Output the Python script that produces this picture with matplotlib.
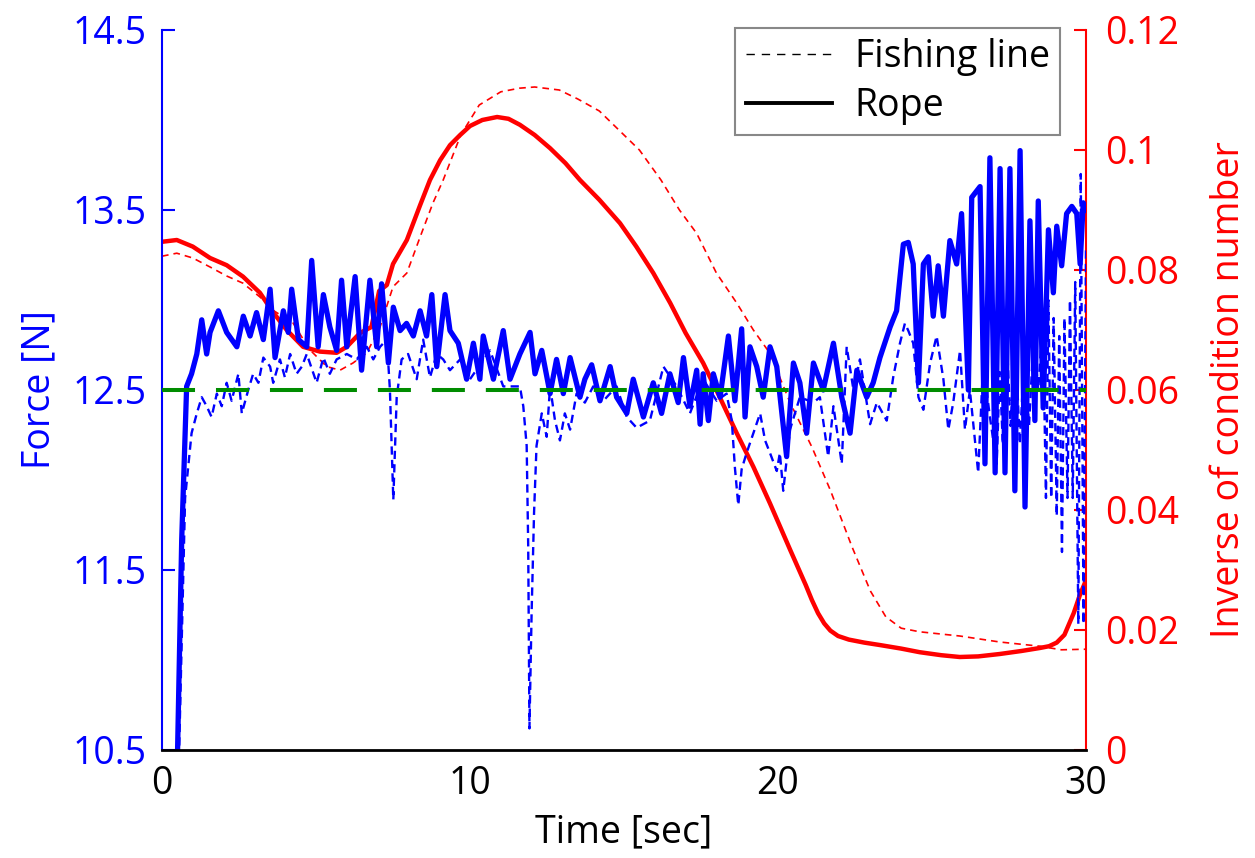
import matplotlib
matplotlib.use("Agg")
import matplotlib.pyplot as plt
from matplotlib.lines import Line2D

plt.rcParams['font.family'] = ['Open Sans', 'DejaVu Sans']

# ---------------- data ----------------
# Rope: force [N] (blue solid, left axis)
rope_force_t = [0.50, 0.64, 0.80, 0.96, 1.13, 1.29, 1.45, 1.56, 1.83, 2.10, 2.43, 2.64, 2.86, 3.07, 3.29,
                3.51, 3.67, 3.94, 4.10, 4.21, 4.43, 4.70, 4.86, 5.07, 5.24, 5.45, 5.67, 5.83, 6.00, 6.27,
                6.48, 6.75, 6.97, 7.13, 7.35, 7.51, 7.73, 7.94, 8.16, 8.38, 8.59, 8.76, 8.92, 9.19, 9.35,
                9.62, 9.89, 10.11, 10.32, 10.43, 10.76, 11.08, 11.30, 11.62, 11.95, 12.11, 12.33, 12.60,
                12.81, 13.03, 13.25, 13.57, 13.73, 13.95, 14.22, 14.55, 14.76, 15.09, 15.30, 15.63, 15.95,
                16.22, 16.49, 16.76, 16.93, 17.14, 17.36, 17.47, 17.57, 17.74, 17.90, 18.12, 18.39, 18.60,
                18.82, 18.93, 19.09, 19.31, 19.52, 19.74, 19.96, 20.28, 20.50, 20.71, 20.93, 21.15, 21.47,
                21.80, 22.07, 22.34, 22.56, 22.88, 23.09, 23.31, 23.64, 23.85, 24.07, 24.23, 24.39, 24.56,
                24.72, 24.88, 25.04, 25.20, 25.37, 25.58, 25.80, 25.96, 26.18, 26.29, 26.56, 26.72, 26.88,
                27.05, 27.21, 27.37, 27.53, 27.69, 27.86, 28.02, 28.18, 28.34, 28.45, 28.61, 28.78, 28.94,
                29.05, 29.21, 29.37, 29.54, 29.70, 29.81, 29.91, 30.00]
rope_force = [10.45, 11.67, 12.52, 12.59, 12.70, 12.89, 12.70, 12.82, 12.94, 12.82, 12.74, 12.91, 12.80, 12.93, 12.78,
              13.06, 12.68, 12.94, 12.82, 13.06, 12.78, 12.74, 13.22, 12.74, 13.03, 12.85, 12.72, 13.11, 12.74, 13.13,
              12.61, 13.11, 12.74, 13.09, 12.65, 12.96, 12.83, 12.87, 12.80, 12.94, 12.80, 13.03, 12.63, 13.03, 12.83,
              12.76, 12.56, 12.76, 12.56, 12.80, 12.56, 12.83, 12.56, 12.70, 12.82, 12.59, 12.72, 12.48,
              12.67, 12.48, 12.68, 12.46, 12.56, 12.64, 12.44, 12.63, 12.46, 12.37, 12.56, 12.35, 12.54,
              12.37, 12.59, 12.43, 12.68, 12.41, 12.61, 12.31, 12.59, 12.33, 12.59, 12.46, 12.80, 12.44,
              12.84, 12.35, 12.74, 12.63, 12.46, 12.74, 12.63, 12.13, 12.65, 12.54, 12.26, 12.65, 12.50,
              12.76, 12.46, 12.26, 12.61, 12.46, 12.54, 12.68, 12.85, 12.94, 13.31, 13.32, 13.20, 12.54,
              13.20, 13.24, 12.91, 13.19, 12.91, 13.33, 13.20, 13.48, 12.50, 13.57, 13.63, 12.09, 13.79,
              12.04, 13.73, 12.04, 13.73, 11.94, 13.83, 11.85, 13.44, 12.33, 13.55, 12.40, 13.39, 13.04,
              13.41, 13.19, 13.48, 13.52, 13.48, 13.20, 13.54, 13.50]

# Fishing line: force [N] (blue dashed, left axis)
fish_force_t = [0.55, 0.75, 0.96, 1.13, 1.29, 1.45, 1.61, 1.78, 1.94, 2.10, 2.26, 2.48, 2.59, 2.80, 2.96,
                3.13, 3.29, 3.51, 3.61, 3.83, 3.99, 4.16, 4.37, 4.54, 4.70, 5.02, 5.24, 5.45, 5.67, 6.00,
                6.32, 6.65, 6.86, 7.08, 7.30, 7.40, 7.51, 7.62, 7.78, 7.99, 8.27, 8.48, 8.70, 8.92, 9.13,
                9.35, 9.68, 10.00, 10.65, 11.08, 11.62, 11.73, 11.84, 11.89, 11.93, 12.00, 12.08, 12.16,
                12.33, 12.49, 12.60, 12.76, 12.92, 13.08, 13.25, 13.46, 13.73, 14.00, 14.33, 14.76, 15.09,
                15.41, 15.84, 16.28, 16.71, 17.14, 17.57, 18.01, 18.33, 18.50, 18.60, 18.71, 18.82, 18.98,
                19.20, 19.42, 19.58, 19.74, 19.96, 20.06, 20.17, 20.39, 20.71, 21.15, 21.36, 21.63, 21.80,
                22.07, 22.23, 22.45, 22.66, 22.99, 23.21, 23.53, 23.74, 23.96, 24.12, 24.23, 24.39, 24.56,
                24.72, 24.94, 25.15, 25.37, 25.53, 25.69, 25.91, 26.07, 26.23, 26.50, 26.66, 26.88, 27.10,
                27.20, 27.30, 27.40, 27.55, 27.70, 27.85, 28.00, 28.15, 28.30, 28.45, 28.60, 28.70, 28.78,
                28.87, 28.95, 29.05, 29.13, 29.22, 29.30, 29.40, 29.48, 29.57, 29.65, 29.75, 29.83, 29.92,
                30.00]
fish_force = [10.45, 11.90, 12.26, 12.37, 12.46, 12.41, 12.35, 12.48, 12.41, 12.54, 12.44, 12.59, 12.37, 12.50, 12.59,
              12.54, 12.68, 12.63, 12.54, 12.67, 12.57, 12.70, 12.59, 12.63, 12.70, 12.54, 12.68, 12.59, 12.67, 12.70,
              12.67, 12.74, 12.67, 12.74, 12.78, 12.50, 11.89, 12.46, 12.67, 12.70, 12.56, 12.78, 12.57, 12.70, 12.67,
              12.61, 12.67, 12.56, 12.72, 12.52, 12.52, 12.41, 12.19, 11.63, 10.62, 11.26, 11.82, 12.19,
              12.37, 12.24, 12.52, 12.33, 12.22, 12.37, 12.28, 12.48, 12.43, 12.52, 12.44, 12.52, 12.35,
              12.29, 12.33, 12.63, 12.52, 12.37, 12.56, 12.44, 12.48, 12.33, 12.07, 11.86, 12.06, 12.15,
              12.26, 12.37, 12.22, 12.15, 12.05, 12.15, 11.94, 12.28, 12.46, 12.43, 12.46, 12.13, 12.41,
              12.09, 12.74, 12.50, 12.67, 12.31, 12.43, 12.33, 12.57, 12.76, 12.87, 12.83, 12.76, 12.46,
              12.39, 12.65, 12.80, 12.56, 12.28, 12.43, 12.72, 12.28, 12.50, 12.04, 12.65, 12.35, 12.09,
              12.60, 12.20, 12.90, 12.30, 12.80, 12.20, 12.70, 12.30, 12.80, 12.50, 12.90, 11.90, 13.00,
              11.90, 12.90, 11.80, 12.80, 11.60, 12.90, 11.90, 13.00, 11.90, 13.10, 11.20, 13.70, 11.20,
              13.30]

# Rope: inverse condition number (red solid, right axis)
rope_icn_t = [0.0, 0.48, 1.0, 1.56, 2.1, 2.63, 3.18, 3.6, 4.05, 4.58, 5.13, 5.67, 6.0, 6.43, 6.8, 7.05,
              7.3, 7.5, 7.95, 8.38, 8.7, 9.03, 9.35, 9.68, 10.0, 10.4, 10.88, 11.25, 11.62, 12.1, 12.6,
              13.1, 13.57, 14.2, 14.87, 15.4, 15.95, 16.5, 17.0, 17.57, 18.1, 18.66, 19.2, 19.74, 20.4,
              20.9, 21.1, 21.3, 21.5, 21.7, 21.95, 22.3, 22.8, 23.3, 24.0, 24.6, 25.3, 25.9, 26.5, 27.2,
              27.9, 28.5, 28.8, 29.05, 29.3, 29.6, 29.8, 30.0]
rope_icn = [0.0847, 0.0850, 0.0839, 0.0820, 0.0808, 0.0789, 0.0762, 0.0730, 0.0700, 0.0672, 0.0664, 0.0662,
            0.0672, 0.0695, 0.0705, 0.0765, 0.0775, 0.0810, 0.0850, 0.0908, 0.0950, 0.0983, 0.1008, 0.1025,
            0.1040, 0.1050, 0.1055, 0.1052, 0.1042, 0.1025, 0.1003, 0.0978, 0.0950, 0.0917, 0.0878, 0.0839,
            0.0795, 0.0745, 0.0695, 0.0645, 0.0589, 0.0528, 0.0472, 0.0411, 0.0333, 0.0275, 0.0250, 0.0228,
            0.0211, 0.0199, 0.0190, 0.0184, 0.0179, 0.0175, 0.0169, 0.0163, 0.0158, 0.0155, 0.0156, 0.0160,
            0.0165, 0.0170, 0.0173, 0.0179, 0.0192, 0.0228, 0.0258, 0.0283]

# Fishing line: inverse condition number (red dashed, right axis)
fish_icn_t = [0.0, 0.48, 1.0, 1.56, 2.1, 2.63, 3.18, 3.6, 4.25, 4.8, 5.35, 5.78, 6.2, 6.65, 7.08, 7.5,
              7.95, 8.38, 8.8, 9.13, 9.7, 10.3, 11.0, 11.6, 12.1, 12.9, 13.5, 14.2, 14.8, 15.5, 16.2, 16.8,
              17.36, 18.0, 18.66, 19.2, 19.74, 20.4, 21.1, 21.7, 22.4, 23.0, 23.5, 24.0, 24.6, 25.9, 27.2,
              28.5, 29.2, 30.0]
fish_icn = [0.0823, 0.0828, 0.0820, 0.0805, 0.0790, 0.0778, 0.0755, 0.0733, 0.0712, 0.0667, 0.0639, 0.0633,
            0.0645, 0.0662, 0.0705, 0.0772, 0.0795, 0.0855, 0.0912, 0.0950, 0.1025, 0.1075, 0.1097, 0.1103,
            0.1105, 0.1100, 0.1085, 0.1065, 0.1035, 0.1000, 0.0950, 0.0900, 0.0861, 0.0795, 0.0745, 0.0700,
            0.0661, 0.0578, 0.0505, 0.0433, 0.0339, 0.0265, 0.0222, 0.0203, 0.0197, 0.0190, 0.0180, 0.0173,
            0.0167, 0.0168]

reference_force = 12.5
time_span = [0, 30]

left_ticks = [10.5, 11.5, 12.5, 13.5, 14.5]
left_ticklabels = ['10.5', '11.5', '12.5', '13.5', '14.5']
right_ticks = [0, 0.02, 0.04, 0.06, 0.08, 0.1, 0.12]
right_ticklabels = ['0', '0.02', '0.04', '0.06', '0.08', '0.1', '0.12']
x_ticks = [0, 10, 20, 30]
x_ticklabels = ['0', '10', '20', '30']

# ---------------- plot ----------------
BLUE = '#0000ff'
RED = '#ff0000'
GREEN = '#008c00'
FS = 27

fig = plt.figure(figsize=(12.55, 8.58), dpi=100)
ax = fig.add_axes([162/1255, 108/858, 924/1255, 720/858])
ax2 = ax.twinx()

# red (right axis) drawn beneath
ax2.plot(fish_icn_t, fish_icn, color=RED, lw=1.2, linestyle=(0, (4, 3)))
ax2.plot(rope_icn_t, rope_icn, color=RED, lw=3.2, solid_joinstyle='round')

ax.set_zorder(ax2.get_zorder() + 1)
ax.patch.set_visible(False)

ax.plot(fish_force_t, fish_force, color=BLUE, lw=1.7, linestyle=(0, (3.5, 2.2)))
ax.plot(rope_force_t, rope_force, color=BLUE, lw=3.8, solid_joinstyle='round')
ax.plot(time_span, [reference_force, reference_force], color=GREEN, lw=2.9,
        linestyle=(0, (8.2, 5.2)), zorder=5)

ax.set_xlim(0, 30)
ax.set_ylim(10.5, 14.5)
ax2.set_ylim(0, 0.12)

ax.set_xticks(x_ticks)
ax.set_xticklabels(x_ticklabels)
ax.set_yticks(left_ticks)
ax.set_yticklabels(left_ticklabels)
ax2.set_yticks(right_ticks)
ax2.set_yticklabels(right_ticklabels)

ax.tick_params(axis='x', length=0, pad=11, labelsize=FS, colors='black')
ax.tick_params(axis='y', direction='in', length=9, width=1.5, pad=11,
               labelsize=FS, colors=BLUE)
ax2.tick_params(axis='y', direction='in', length=9, width=1.5, pad=14,
                labelsize=FS, colors=RED)

for s in ['top', 'right']:
    ax.spines[s].set_visible(False)
ax.spines['left'].set_color(BLUE)
ax.spines['left'].set_linewidth(1.5)
ax.spines['bottom'].set_color('black')
ax.spines['bottom'].set_linewidth(2.0)
for s in ['top', 'left', 'bottom']:
    ax2.spines[s].set_visible(False)
ax2.spines['right'].set_color(RED)
ax2.spines['right'].set_linewidth(1.5)

ax.set_xlabel('Time [sec]', fontsize=FS, color='black', labelpad=7)
ax.set_ylabel('Force [N]', fontsize=FS, color=BLUE, labelpad=10)
ax2.set_ylabel('Inverse of condition number', fontsize=FS, color=RED, labelpad=22)

handles = [Line2D([], [], color='black', lw=1.0, linestyle=(0, (6, 5))),
           Line2D([], [], color='black', lw=2.8)]
leg = ax.legend(handles, ['Fishing line', 'Rope'], loc='upper right',
                bbox_to_anchor=(0.972, 1.003), borderaxespad=0, fontsize=FS,
                fancybox=False, framealpha=1, edgecolor='#888888',
                handlelength=2.3, handletextpad=0.6, labelspacing=0.28,
                borderpad=0.28)
leg.get_frame().set_linewidth(1.5)
leg.set_zorder(10)

fig.savefig('out.png', dpi=100)
